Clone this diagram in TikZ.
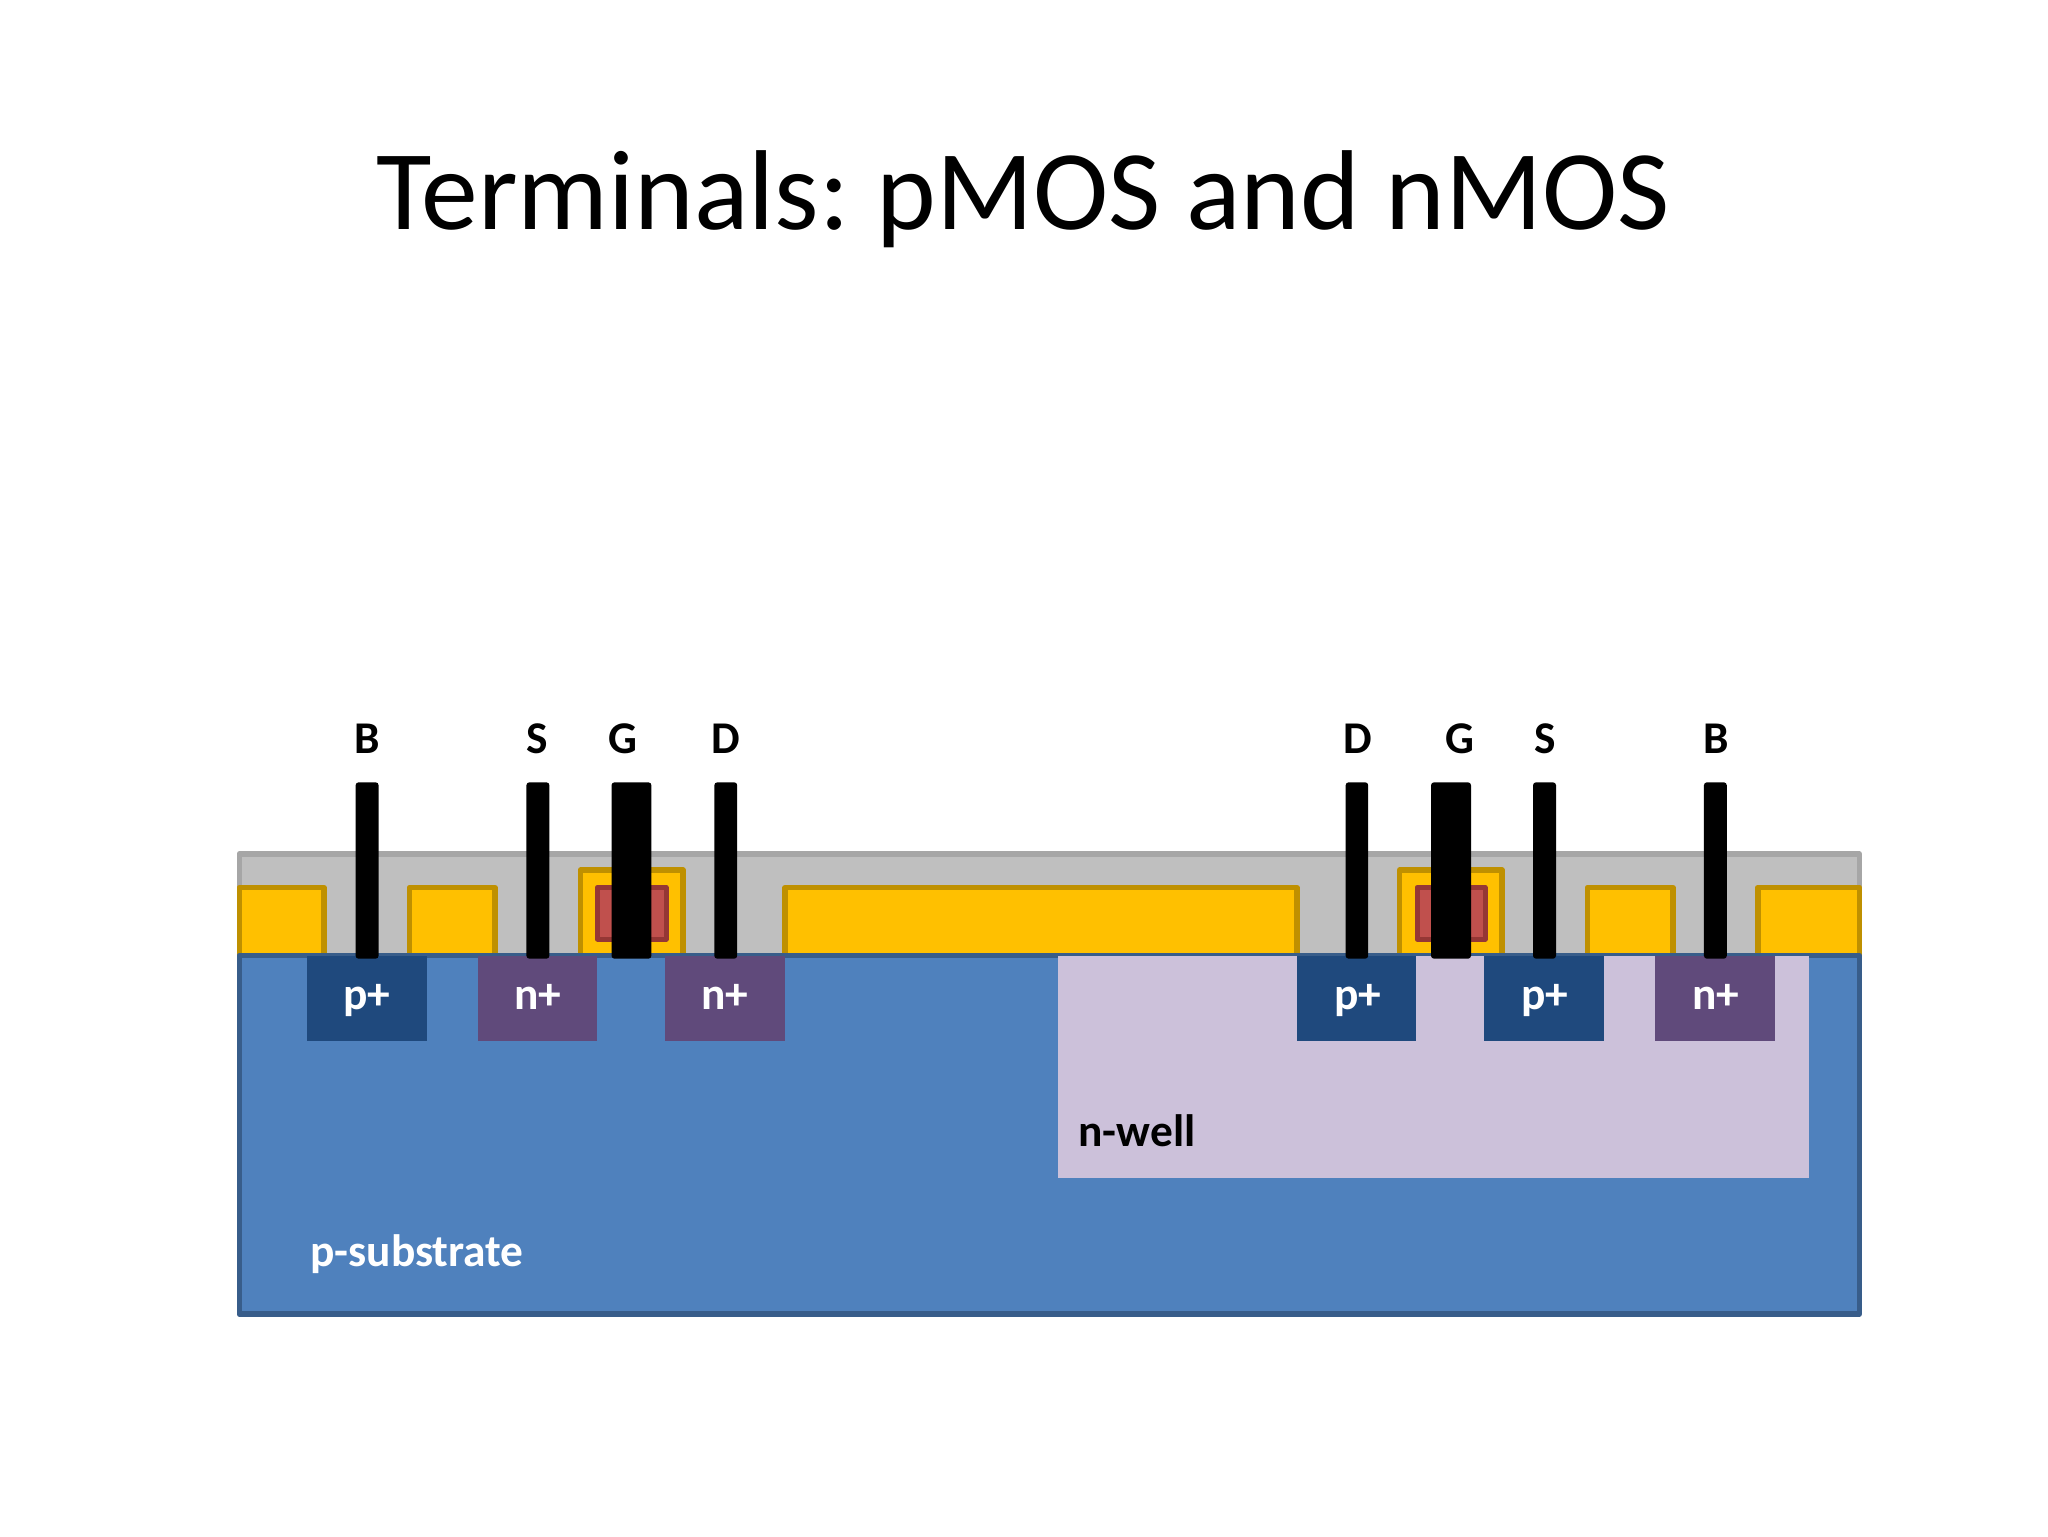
\documentclass[tikz,border=0pt]{standalone}
\usepackage{fontspec}
\setmainfont{Carlito}
\definecolor{oxF}{HTML}{BFBFBF}\definecolor{oxD}{HTML}{A6A6A6}
\definecolor{yeF}{HTML}{FFC000}\definecolor{yeD}{HTML}{BF9000}
\definecolor{reF}{HTML}{C0504D}\definecolor{reD}{HTML}{953735}
\definecolor{blF}{HTML}{4F81BD}\definecolor{blD}{HTML}{385D8A}
\definecolor{pdF}{HTML}{1F497D}\definecolor{ndF}{HTML}{604A7B}
\definecolor{nwF}{HTML}{CCC1DA}
\tikzset{
  oxide/.style={fill=oxF,draw=oxD,line width=2.7pt,line join=round},
  field/.style={fill=yeF,draw=yeD,line width=2.7pt,line join=round},
  poly/.style={fill=reF,draw=reD,line width=2.5pt,line join=round},
  subst/.style={fill=blF,draw=blD,line width=2.7pt,line join=round},
  pdiff/.style={fill=pdF},
  ndiff/.style={fill=ndF},
  well/.style={fill=nwF},
  wire/.style={fill=black,rounded corners=1.5pt},
  lab/.style={anchor=base,inner sep=0pt,font=\fontsize{22.7}{27}\selectfont\bfseries},
  diffl/.style={lab,text=white},
}
\begin{document}
\begin{tikzpicture}[x=0.5pt,y=-0.5pt]
\useasboundingbox (0,0) rectangle (2048,1536);
\fill[white] (0,0) rectangle (2048,1536);
\node[anchor=base,inner sep=0pt,font=\fontsize{56.8}{68}\selectfont] (title) at (1023.3,229) {Terminals:\hspace{-0.06em} pMOS and nMOS};
% oxide
\draw[oxide] (239.2,854) rectangle (1859.3,956);
% field oxide and gates
\draw[field] (239.2,956) -- (239.2,887.5) -- (324,887.5) -- (324,956);
\draw[field] (409.5,956) -- (409.5,887.5) -- (495,887.5) -- (495,956);
\draw[field] (580.4,956) -- (580.4,870) -- (683,870) -- (683,956);
\draw[poly] (597.3,887.5) rectangle (666,939);
\draw[field] (785,956) -- (785,887.5) -- (1297,887.5) -- (1297,956);
\draw[field] (1399.5,956) -- (1399.5,870) -- (1502,870) -- (1502,956);
\draw[poly] (1417,887.5) rectangle (1485,939);
\draw[field] (1587.4,956) -- (1587.4,887.5) -- (1673,887.5) -- (1673,956);
\draw[field] (1757.8,956) -- (1757.8,887.5) -- (1859.3,887.5) -- (1859.3,956);
% substrate, well, diffusions
\draw[subst] (239.2,955.5) rectangle (1859.3,1314);
\fill[well] (1058,955.7) rectangle (1809,1177.7);
\fill[pdiff] (307,955.7) rectangle (426.8,1040.7);
\fill[ndiff] (477.8,955.7) rectangle (597.2,1040.7);
\fill[ndiff] (665.2,955.7) rectangle (785,1040.7);
\fill[pdiff] (1296.6,955.7) rectangle (1416.4,1040.7);
\fill[pdiff] (1484.4,955.7) rectangle (1604.2,1040.7);
\fill[ndiff] (1655.2,955.7) rectangle (1775,1040.7);
% terminals
\fill[wire] (355.6,782.3) rectangle (378.6,958.7);
\fill[wire] (526.4,782.3) rectangle (549.4,958.7);
\fill[wire] (611.5,782.3) rectangle (651.4,958.7);
\fill[wire] (714.3,782.3) rectangle (737.2,958.7);
\fill[wire] (1345.6,782.3) rectangle (1368.2,958.7);
\fill[wire] (1431,782.3) rectangle (1471,958.7);
\fill[wire] (1533,782.3) rectangle (1556,958.7);
\fill[wire] (1703.9,782.3) rectangle (1726.8,958.7);
% labels
\node[lab] (tB1) at (367,753.5) {B};
\node[lab] (tS1) at (537.5,753.5) {S};
\node[lab] (tG1) at (623,753.5) {G};
\node[lab] (tD1) at (725.5,753.5) {D};
\node[lab] (tD2) at (1357.5,753.5) {D};
\node[lab] (tG2) at (1459.5,753.5) {G};
\node[lab] (tS2) at (1545,753.5) {S};
\node[lab] (tB2) at (1716,753.5) {B};
\node[diffl] (d1) at (367,1009.3) {p+};
\node[diffl] (d2) at (537.5,1009.3) {n+};
\node[diffl] (d3) at (725,1009.3) {n+};
\node[diffl] (d4) at (1357.5,1009.3) {p+};
\node[diffl] (d5) at (1545,1009.3) {p+};
\node[diffl] (d6) at (1715.5,1009.3) {n+};
\node[lab] (nw) at (1137,1146) {n-well};
\node[diffl] (ps) at (417,1266) {p-substrate};
\end{tikzpicture}
\end{document}
